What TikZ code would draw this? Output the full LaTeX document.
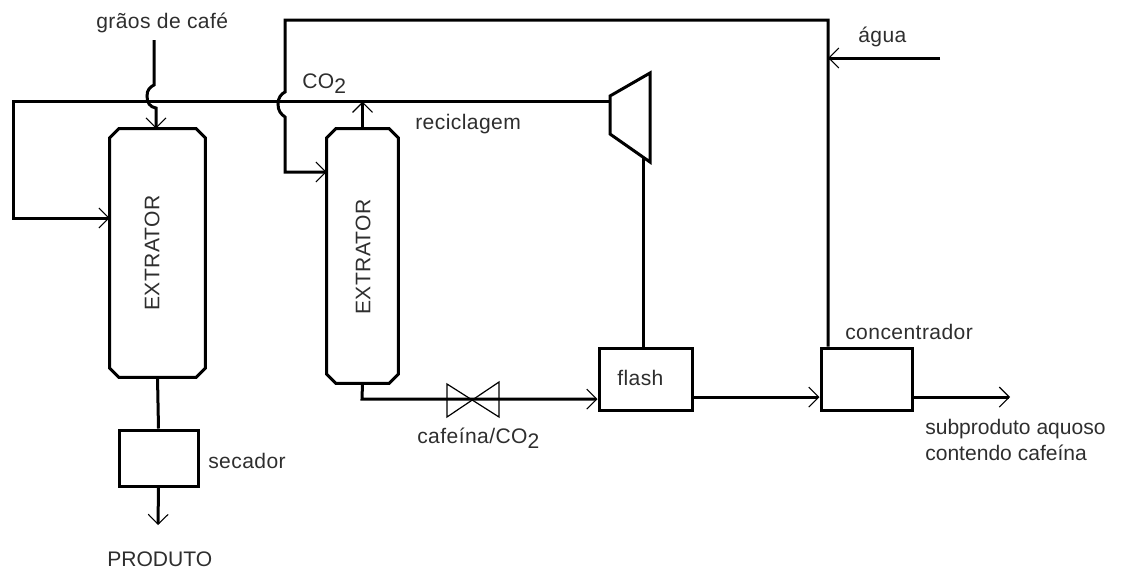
\documentclass[tikz,border=0pt]{standalone}
\usepackage{fontspec}
\usepackage{graphicx}
\setmainfont[LetterSpace=2]{Liberation Sans}
\newfontfamily\plainfont{Liberation Sans}
\usetikzlibrary{arrows.meta,calc}
\tikzset{
  line/.style={line width=2.25pt,black,line join=miter},
  flow/.style={line,-{Straight Barb[length=7.5pt,width=15pt,line width=0.8pt]}},
  unit/.style={draw,line width=2.25pt,rectangle,inner sep=0pt,fill=white},
  vessel/.style={rectangle,inner sep=0pt},
  lbl/.style={inner sep=0pt,text=black!82,font=\fontsize{15.8}{19.5}\selectfont,align=left,anchor=base west},
  thin part/.style={draw,line width=0.9pt,line join=miter}
}
\newcommand{\sub}{\raisebox{-0.45ex}{2}}
\newcommand{\chamferbox}[1]{%
  \draw[line] ($(#1.north west)+(9,0)$) -- ($(#1.north east)+(-9,0)$) -- ($(#1.north east)+(0,9)$)
    -- ($(#1.south east)+(0,-9)$) -- ($(#1.south east)+(-9,0)$) -- ($(#1.south west)+(9,0)$)
    -- ($(#1.south west)+(0,-9)$) -- ($(#1.north west)+(0,9)$) -- cycle;}
\begin{document}
\begin{tikzpicture}[x=0.75pt,y=-0.75pt]
\useasboundingbox (0,0) rectangle (1121,569);
% units
\node[vessel,minimum width=71.25pt,minimum height=186pt] (ext1) at (157.5,253) {};
\node[vessel,minimum width=53.25pt,minimum height=190.5pt] (ext2) at (362.5,256) {};
\chamferbox{ext1}
\chamferbox{ext2}
\node[unit,minimum width=59.25pt,minimum height=42pt] (sec) at (158.5,458) {};
\node[unit,minimum width=69.75pt,minimum height=46.5pt] (flash) at (645.5,379) {};
\node[unit,minimum width=68.25pt,minimum height=46.5pt] (conc) at (866.5,379) {};
% compressor
\coordinate (ca) at (610,96);
\coordinate (cb) at (650,73);
\coordinate (cc) at (650,162);
\coordinate (cd) at (610,134);
\coordinate (cin) at (610,101);
\coordinate (cout) at (643,157);
\draw[line] (ca) -- (cb) -- (cc) -- (cd) -- cycle;
% valve
\coordinate (va) at (447,384);
\coordinate (vb) at (447,417);
\coordinate (vc) at (499,382);
\coordinate (vd) at (499,417);
\draw[thin part] (va) -- (vd) -- (vc) -- (vb) -- cycle;
% coordinates
\coordinate (m0) at (13,101);
\coordinate (m1) at (13,218);
\coordinate (g0) at (154,40);
\coordinate (g1) at (154,85);
\coordinate (g2) at (156,108);
\coordinate (t0) at (285,92);
\coordinate (t1) at (285,117);
\coordinate (t2) at (285,172);
\coordinate (t3) at (285,20);
\coordinate (t4) at (828,20);
\coordinate (a0) at (940,58);
\coordinate (a1) at (828,58);
\coordinate (o0) at (1010,397);
\coordinate (p0) at (158,525);
\coordinate (u1) at (362,399);
% connectors
\draw[flow] (cin) -- (m0) -- (m1) -- (m1 -| ext1.west);
\draw[flow] (g0) -- (g1) .. controls (150,87) and (147,90) .. (147,96) .. controls (147,103) and (150,107) .. (g2) -- (g2 |- ext1.north);
\draw[flow] (conc.north -| a1) -- (t4) -- (t3) -- (t0) .. controls (281,94) and (278,98) .. (278,104) .. controls (278,111) and (281,114) .. (t1) -- (t2) -- (t2 -| ext2.west);
\draw[flow] (ext2.north) -- ++(0,-27);
\draw[line] (cout) -- (cout |- flash.north);
\draw[flow] (ext2.south) -- (u1) -- (u1 -| flash.west);
\draw[flow] (flash.east |- o0) -- (conc.west |- o0);
\draw[flow] (conc.east |- o0) -- (o0);
\draw[flow] (a0) -- (a1);
\draw[line] (ext1.south) -- (sec.north);
\draw[flow] (sec.south) -- (p0);
% labels
\node[lbl] (lg) at (96,28) {grãos de café};
\node[lbl] (lco) at (302,88) {CO\sub};
\node[lbl] (lr) at (415,129) {reciclagem};
\node[lbl] (la) at (858,42) {água};
\node[lbl] (lc) at (845,339) {concentrador};
\node[lbl] (lf) at (617,385) {flash};
\node[lbl] (lcf) at (417,443) {cafeína/CO\sub};
\node[lbl] (ls) at (208,468) {secador};
\node[lbl,font=\fontsize{15.8}{19.5}\selectfont\plainfont] (lp) at (107,566) {PRODUTO};
\node[lbl,font=\fontsize{15.8}{19.5}\selectfont\plainfont,anchor=base west] (lsub) at (925,434) {subproduto aquoso};
\node[lbl,font=\fontsize{15.8}{19.5}\selectfont\plainfont,anchor=base west] (lsub2) at (925,460) {contendo cafeína};
\node[lbl,anchor=center] (le1) at (152,253) {\rotatebox{90}{EXTRATOR}};
\node[lbl,anchor=center] (le2) at (363,257) {\rotatebox{90}{EXTRATOR}};
\end{tikzpicture}
\end{document}
